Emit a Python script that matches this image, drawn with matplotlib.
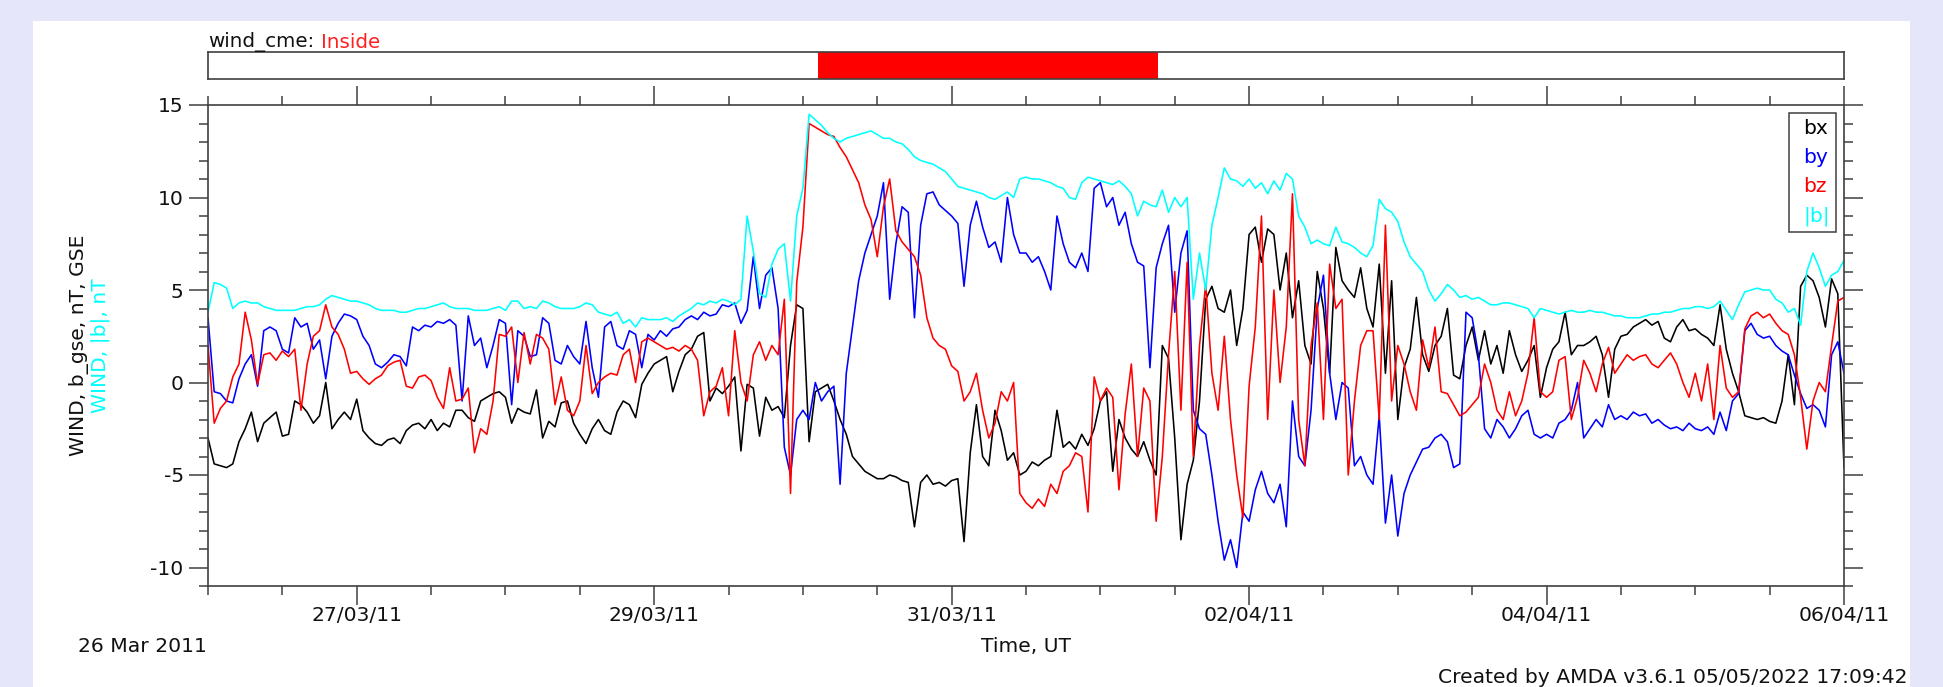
import numpy as np
import matplotlib
matplotlib.use('Agg')
from matplotlib import pyplot as plt
import matplotlib.dates as mdates
from matplotlib.patches import Rectangle

plt.rcParams['font.family'] = 'DejaVu Sans'
plt.rcParams['axes.unicode_minus'] = False

# hourly samples from 26 Mar 2011 00:00 UT
start = np.datetime64('2011-03-26T00:00')
hours = np.arange(265)
times = start + hours.astype('timedelta64[h]')

bx = [
    -3.0, -4.4, -4.5, -4.6, -4.4, -3.2, -2.5, -1.6, -3.2, -2.2, -1.9, -1.6,
    -2.9, -2.8, -1.0, -1.2, -1.6, -2.2, -1.8, 0.0, -2.5, -2.0, -1.6, -2.0,
    -0.9, -2.6, -3.0, -3.3, -3.4, -3.1, -3.0, -3.3, -2.6, -2.3, -2.2, -2.5,
    -2.0, -2.6, -2.2, -2.4, -1.5, -1.5, -1.9, -2.1, -1.0, -0.8, -0.6, -0.5,
    -0.8, -2.2, -1.4, -1.6, -1.7, -0.4, -3.0, -2.1, -2.4, -1.1, -1.0, -2.2,
    -2.8, -3.3, -2.5, -2.0, -2.6, -2.8, -1.6, -1.0, -1.2, -1.9, -0.1, 0.5,
    1.0, 1.2, 1.4, -0.5, 0.6, 1.5, 1.8, 2.5, 2.7, -1.0, -0.3, -0.6,
    -0.2, 0.3, -3.7, -0.1, -0.3, -2.9, -0.8, -1.5, -1.3, -1.9, 2.0, 4.2,
    4.0, -3.2, -0.5, -0.3, -0.1, -1.0, -2.0, -2.8, -4.0, -4.4, -4.8, -5.0,
    -5.2, -5.2, -5.0, -5.1, -5.3, -5.4, -7.8, -5.4, -5.0, -5.5, -5.4, -5.6,
    -5.3, -5.2, -8.6, -3.8, -1.2, -4.0, -4.5, -1.5, -2.6, -4.2, -3.8, -5.0,
    -4.8, -4.3, -4.5, -4.2, -4.0, -1.5, -3.5, -3.2, -3.6, -2.8, -3.4, -2.5,
    -1.0, -0.5, -4.8, -2.0, -3.0, -3.6, -4.0, -3.2, -4.2, -5.0, 2.0, 1.3,
    -3.0, -8.5, -5.5, -4.2, -1.0, 4.5, 5.2, 4.0, 3.8, 5.0, 2.0, 4.0,
    8.0, 8.4, 6.5, 8.3, 8.0, 5.0, 7.0, 3.5, 5.5, 2.0, 1.0, 6.0,
    4.0, 0.5, 7.3, 5.5, 5.0, 4.6, 6.2, 4.0, 3.0, 6.4, 0.5, 5.5,
    -2.0, 0.8, 1.8, 4.6, 1.5, 0.6, 2.0, 2.5, 4.0, 0.4, 0.2, 2.0,
    3.0, 1.2, 2.8, 1.0, 2.0, 0.5, 2.8, 1.5, 0.6, 1.2, 2.0, -0.8,
    0.8, 1.8, 2.2, 3.8, 1.5, 2.0, 2.0, 2.2, 2.5, 1.5, -0.8, 1.8,
    2.5, 2.6, 3.0, 3.2, 3.4, 3.1, 3.3, 2.4, 2.2, 3.0, 3.4, 2.8,
    2.9, 2.6, 2.4, 2.0, 4.2, 1.8, 0.5, -0.5, -1.8, -1.9, -2.0, -1.9,
    -2.1, -2.2, -1.0, 1.5, -1.2, 5.2, 5.8, 5.5, 4.6, 3.0, 5.6, 4.8,
    -4.6,
]

by = [
    3.5, -0.5, -0.6, -1.0, -1.1, 0.2, 1.0, 1.5, -0.2, 2.8, 3.0, 2.8,
    1.8, 1.6, 3.5, 3.0, 3.2, 1.8, 2.3, 0.2, 2.5, 3.2, 3.7, 3.6,
    3.4, 2.5, 2.0, 1.0, 0.8, 1.1, 1.5, 1.4, 0.9, 3.0, 2.8, 3.1,
    3.0, 3.3, 3.2, 3.4, 3.1, -1.0, 3.6, 2.0, 2.4, 0.8, 2.0, 3.4,
    3.2, -1.2, 2.8, 2.5, 1.4, 1.5, 3.5, 3.2, 1.2, 1.0, 2.0, 1.4,
    1.0, 3.3, 0.8, -0.8, 3.0, 3.3, 2.0, 1.8, 2.8, 2.6, 0.8, 2.6,
    2.3, 2.8, 2.5, 2.9, 3.0, 3.4, 3.6, 3.4, 3.8, 3.6, 3.7, 4.2,
    4.1, 4.3, 3.2, 3.9, 6.8, 4.0, 5.8, 6.2, 4.0, -3.5, -5.0, -2.0,
    -1.5, -2.0, 0.0, -1.0, -0.5, -0.2, -5.5, 0.5, 3.0, 5.5, 7.0, 8.0,
    9.0, 10.8, 4.5, 7.5, 9.5, 9.2, 3.5, 8.5, 10.2, 10.3, 9.6, 9.3,
    9.0, 8.6, 5.2, 8.5, 9.8, 8.4, 7.3, 7.6, 6.5, 10.0, 8.0, 7.0,
    7.0, 6.5, 6.8, 6.0, 5.0, 9.0, 7.5, 6.5, 6.2, 7.0, 6.0, 10.5,
    10.8, 9.5, 10.0, 8.5, 9.2, 7.5, 6.5, 6.3, 0.8, 6.2, 7.5, 8.5,
    3.8, 7.0, 8.2, -1.5, -2.5, -2.8, -5.0, -7.5, -9.6, -8.5, -10.0, -7.0,
    -7.5, -5.8, -4.8, -6.0, -6.5, -5.5, -7.8, -1.0, -4.0, -4.5, -1.5, 4.0,
    5.8, 0.5, -2.0, 0.0, -0.3, -4.5, -4.0, -5.0, -5.5, -1.8, -7.6, -5.0,
    -8.3, -6.0, -5.0, -4.3, -3.6, -3.5, -3.0, -2.8, -3.2, -4.6, -4.4, 3.8,
    3.5, 1.5, -2.5, -3.0, -2.0, -2.4, -3.0, -2.5, -1.8, -1.5, -2.8, -3.0,
    -2.8, -3.0, -2.2, -2.0, -1.5, 0.0, -3.0, -2.5, -2.0, -2.4, -1.2, -2.0,
    -1.8, -2.0, -1.6, -1.8, -1.7, -2.2, -2.0, -2.3, -2.5, -2.4, -2.6, -2.2,
    -2.5, -2.6, -2.4, -2.8, -1.6, -2.6, -1.0, -0.6, 2.8, 3.2, 2.6, 2.4,
    2.5, 2.0, 1.7, 1.5, 0.4, -0.6, -1.4, -1.2, -1.5, -2.4, 1.5, 2.2,
    0.5,
]

bz = [
    2.0, -2.2, -1.4, -1.0, 0.3, 1.0, 3.8, 2.3, -0.1, 1.5, 1.6, 1.2,
    1.7, 1.4, 1.8, -1.5, 1.0, 2.5, 2.8, 4.2, 3.0, 2.6, 1.8, 0.5,
    0.6, 0.2, -0.1, 0.2, 0.4, 0.9, 1.1, 1.2, -0.2, -0.3, 0.3, 0.4,
    0.1, -0.8, -1.4, 0.8, -1.0, -0.9, -0.3, -3.8, -2.5, -2.8, -1.0, 2.6,
    2.5, 3.0, 0.0, 2.7, 1.0, 2.6, 2.4, 1.8, -1.2, 0.3, -1.5, -1.8,
    -1.0, 2.0, -0.6, 0.0, 0.3, 0.5, 0.4, 1.5, 1.8, 0.0, 2.2, 2.4,
    2.2, 2.0, 1.8, 1.9, 1.7, 2.0, 1.8, 1.2, -1.8, -0.5, -0.2, 0.8,
    -1.8, 2.8, 0.0, -1.0, 1.5, 2.2, 1.2, 2.0, 1.5, 4.5, -6.0, 5.4,
    8.4, 14.0, 13.8, 13.6, 13.4, 13.3, 12.7, 12.2, 11.5, 10.8, 9.6, 8.8,
    6.8, 9.5, 11.0, 8.2, 7.6, 7.2, 6.8, 5.8, 3.5, 2.4, 2.0, 1.8,
    0.9, 0.6, -1.0, -0.5, 0.5, -1.5, -3.0, -2.2, -0.5, -1.0, 0.0, -6.0,
    -6.5, -6.8, -6.3, -6.7, -5.5, -6.0, -4.8, -4.5, -3.8, -4.0, -7.0, 0.3,
    -1.0, -0.3, -0.8, -5.8, -1.7, 1.0, -4.0, -0.3, -1.0, -7.5, -4.0, 1.5,
    6.0, -1.5, 6.5, -4.0, 2.0, 5.3, 0.5, -1.5, 2.5, -2.0, -5.0, -7.3,
    -0.2, 3.0, 9.0, -2.0, 5.0, 0.0, 3.0, 10.2, -2.0, -4.5, 2.0, 4.3,
    -2.0, 6.4, 4.0, 4.5, -5.0, -1.0, 2.0, 2.8, 2.8, -2.0, 8.5, -1.0,
    2.0, 1.0, -0.5, -1.5, 2.3, 0.8, 3.0, -0.5, -0.6, -1.2, -1.8, -1.6,
    -1.2, -0.8, 1.0, 0.0, -1.5, -2.0, -0.5, -1.8, -1.0, 0.5, 3.5, -0.5,
    -0.8, -0.5, 1.2, 1.4, -2.0, -0.8, 1.2, 0.5, -0.5, 1.0, 1.9, 0.5,
    1.0, 1.5, 1.2, 1.4, 1.5, 1.0, 0.8, 1.2, 1.6, 1.0, 0.0, -0.8,
    0.5, -1.0, 1.0, -2.0, 2.0, -0.3, -0.8, -0.5, 2.9, 3.6, 3.8, 3.5,
    3.7, 3.2, 2.8, 2.6, 1.5, -0.8, -3.6, -1.0, 0.0, -0.5, 2.0, 4.4,
    4.6,
]

b_mag = [
    3.8, 5.4, 5.3, 5.1, 4.0, 4.3, 4.4, 4.3, 4.3, 4.1, 4.0, 3.9,
    3.9, 3.9, 3.9, 4.0, 4.1, 4.1, 4.2, 4.5, 4.7, 4.6, 4.5, 4.4,
    4.4, 4.3, 4.2, 4.0, 3.9, 3.9, 3.9, 3.8, 3.8, 3.9, 4.0, 4.0,
    4.1, 4.2, 4.3, 4.1, 4.0, 4.0, 4.0, 3.9, 3.9, 3.9, 4.0, 4.1,
    3.9, 4.4, 4.4, 4.0, 4.1, 4.0, 4.4, 4.3, 4.1, 4.0, 4.0, 4.0,
    4.1, 4.3, 4.2, 3.8, 3.7, 3.6, 3.8, 3.2, 3.4, 3.0, 3.5, 3.4,
    3.4, 3.4, 3.5, 3.3, 3.6, 3.8, 4.0, 4.3, 4.2, 4.4, 4.3, 4.5,
    4.4, 4.2, 4.5, 9.0, 7.1, 4.8, 4.6, 6.4, 7.2, 7.5, 4.4, 9.0,
    10.5, 14.5, 14.2, 13.9, 13.5, 13.2, 13.0, 13.2, 13.3, 13.4, 13.5, 13.6,
    13.4, 13.2, 13.2, 13.0, 12.9, 12.6, 12.2, 12.0, 11.9, 11.8, 11.6, 11.4,
    11.0, 10.6, 10.5, 10.4, 10.3, 10.2, 10.0, 9.9, 10.1, 10.3, 10.0, 11.0,
    11.1, 11.0, 11.0, 10.9, 10.8, 10.6, 10.5, 10.0, 9.9, 10.8, 11.1, 11.0,
    10.9, 10.8, 10.7, 10.9, 10.6, 10.2, 9.0, 9.8, 9.6, 9.5, 10.4, 9.2,
    10.0, 9.5, 10.0, 4.5, 7.0, 5.0, 8.5, 10.0, 11.6, 11.0, 10.9, 10.6,
    11.0, 10.5, 10.8, 10.2, 10.9, 10.4, 11.3, 11.0, 9.0, 8.4, 7.5, 7.7,
    7.5, 7.4, 8.4, 7.6, 7.5, 7.3, 7.0, 6.8, 7.4, 9.9, 9.4, 9.2,
    8.7, 7.6, 6.8, 6.4, 6.0, 5.0, 4.4, 4.8, 5.3, 5.0, 4.6, 4.7,
    4.5, 4.6, 4.4, 4.2, 4.2, 4.3, 4.3, 4.2, 4.1, 4.0, 3.5, 4.0,
    3.9, 3.8, 3.7, 3.8, 3.9, 3.8, 3.8, 3.9, 3.8, 3.8, 3.7, 3.6,
    3.6, 3.5, 3.5, 3.5, 3.6, 3.7, 3.7, 3.8, 3.8, 3.9, 4.0, 4.0,
    4.1, 4.1, 4.0, 4.1, 4.4, 3.9, 3.4, 4.2, 4.9, 5.0, 5.1, 5.0,
    5.0, 4.5, 4.3, 3.8, 4.0, 3.1, 6.0, 7.0, 6.2, 5.2, 5.8, 6.0,
    6.6,
]

series_names = ['bx', 'by', 'bz', '|b|']
series_colors = ['#000000', '#0000ff', '#ff0000', '#00ffff']

cme_start = np.datetime64('2011-03-30T02:30')
cme_end = np.datetime64('2011-04-01T09:20')

x_start = np.datetime64('2011-03-26T00:00')
x_end = np.datetime64('2011-04-06T00:00')
major_days = np.array(['2011-03-27', '2011-03-29', '2011-03-31',
                       '2011-04-02', '2011-04-04', '2011-04-06'], dtype='datetime64[D]')

W, H = 1943, 687
FS = 14.6
axis_col = '#404040'
text_col = '#111111'
fig = plt.figure(figsize=(W / 100, H / 100), dpi=100, facecolor='#e6e6fa')
fig.add_artist(Rectangle((33 / W, 0), (1910 - 33) / W, (H - 21) / H,
                         transform=fig.transFigure, facecolor='white',
                         edgecolor='none', zorder=-10))

# main panel
ax = fig.add_axes([208 / W, 101 / H, 1636 / W, 481 / H])
for vals, c in zip([bx, by, bz, b_mag], series_colors):
    ax.plot(times, vals, color=c, lw=1.15)

ax.set_xlim(x_start, x_end)
ax.set_ylim(-11, 15)
ax.set_yticks([-10, -5, 0, 5, 10, 15])
ax.yaxis.set_minor_locator(matplotlib.ticker.MultipleLocator(1))
ax.set_xticks(major_days)
ax.xaxis.set_major_formatter(mdates.DateFormatter('%d/%m/%y'))
ax.xaxis.set_minor_locator(mdates.HourLocator(byhour=[0, 12]))

for s in ax.spines.values():
    s.set_color(axis_col)
    s.set_linewidth(1.2)
ax.tick_params(which='both', direction='out', top=True, right=True,
               color=axis_col, width=1.1, labelsize=FS, labelcolor=text_col)
ax.tick_params(which='major', length=13.5)
ax.tick_params(which='minor', length=6.5)
ax.tick_params(axis='x', pad=1)
ax.tick_params(axis='y', pad=4)

ax.set_xlabel('Time, UT', fontsize=FS, color=text_col, va='baseline')
ax.xaxis.set_label_coords(0.5, (586 - 652) / 481)

ax.text((79 - 208) / 1636, 0.5, 'WIND, b_gse, nT, GSE', transform=ax.transAxes,
        rotation=90, ha='center', va='center', fontsize=FS, color=text_col)
ax.text((100 - 208) / 1636, 0.5, 'WIND, |b|, nT', transform=ax.transAxes,
        rotation=90, ha='center', va='center', fontsize=FS, color='#00ffff')

leg = ax.legend(ax.get_lines(), series_names, loc='upper right',
                bbox_to_anchor=(1 - 8 / 1636, 1 - 8 / 481), borderaxespad=0,
                handlelength=0, handletextpad=0.4, fontsize=FS,
                fancybox=False, framealpha=1, edgecolor=axis_col,
                labelspacing=0.5, borderpad=0.3)
leg.get_frame().set_linewidth(1.1)
for txt, c in zip(leg.get_texts(), series_colors):
    txt.set_color(c)

# cme interval bar
bar = fig.add_axes([208 / W, (H - 79) / H, 1636 / W, 27 / H])
bar.axvspan(cme_start, cme_end, color='#ff0000', lw=0)
bar.set_xlim(x_start, x_end)
bar.set_ylim(0, 1)
bar.set_xticks([])
bar.set_yticks([])
for s in bar.spines.values():
    s.set_color(axis_col)
    s.set_linewidth(1.2)

t1 = fig.text(208 / W, (H - 47) / H, 'wind_cme:', fontsize=14.3,
              color=text_col, va='baseline')
bar.annotate('Inside', xy=(1, 0), xycoords=t1, xytext=(5, 0),
             textcoords='offset points', va='bottom', fontsize=14.3,
             color='#ff2020')

fig.text(78 / W, (H - 652) / H, '26 Mar 2011', fontsize=FS, color=text_col,
         va='baseline')
fig.text(1908 / W, (H - 683) / H, 'Created by AMDA v3.6.1 05/05/2022 17:09:42',
         fontsize=FS, color=text_col, ha='right', va='baseline')

fig.savefig('out.png', dpi=100, facecolor=fig.get_facecolor())
